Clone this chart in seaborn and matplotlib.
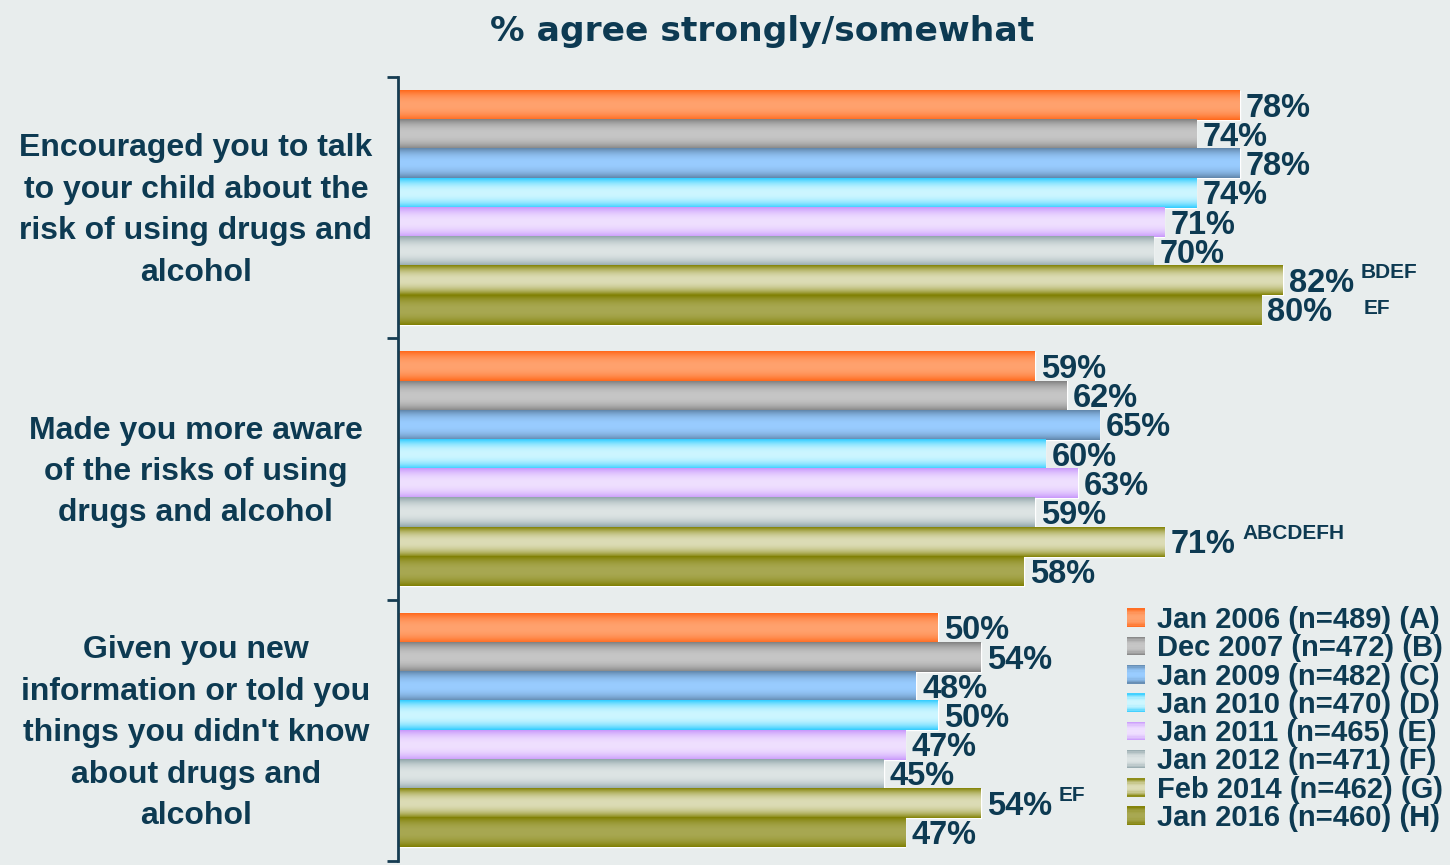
import numpy as np
import pandas as pd
import matplotlib
matplotlib.use("Agg")
import matplotlib.pyplot as plt
import matplotlib.transforms as mtransforms
from matplotlib.patches import Patch, Rectangle
from matplotlib.legend_handler import HandlerBase
from matplotlib.colors import to_rgb
import seaborn as sns

# ---------------- data ----------------
categories = [
    "Encouraged you to talk\nto your child about the\nrisk of using drugs and\nalcohol",
    "Made you more aware\nof the risks of using\ndrugs and alcohol",
    "Given you new\ninformation or told you\nthings you didn't know\nabout drugs and\nalcohol",
]
series = [
    "Jan 2006 (n=489) (A)",
    "Dec 2007 (n=472) (B)",
    "Jan 2009 (n=482) (C)",
    "Jan 2010 (n=470) (D)",
    "Jan 2011 (n=465) (E)",
    "Jan 2012 (n=471) (F)",
    "Feb 2014 (n=462) (G)",
    "Jan 2016 (n=460) (H)",
]
values_encouraged = [78, 74, 78, 74, 71, 70, 82, 80]
values_aware = [59, 62, 65, 60, 63, 59, 71, 58]
values_new_info = [50, 54, 48, 50, 47, 45, 54, 47]
# significance letters: (category index, series index, text)
sig_letters = [
    (0, 6, "BDEF"),
    (0, 7, "EF"),
    (1, 6, "ABCDEFH"),
    (2, 6, "EF"),
]

# gradient colours per series: (edge, center)
grad_colors = [
    ("#ff6618", "#ffa26e"),
    ("#7f7f7f", "#c6c6c6"),
    ("#5f84a8", "#99ccff"),
    ("#2ccbff", "#cdf6ff"),
    ("#c796fb", "#efe0ff"),
    ("#8ea3a8", "#dde4e4"),
    ("#808000", "#dcdcb6"),
    ("#7e7e00", "#a8a852"),
]

BG = "#e8eded"
TXT = "#0d3a52"

rows = []
for cat, vals in zip(categories, [values_encouraged, values_aware, values_new_info]):
    for s, v in zip(series, vals):
        rows.append({"category": cat, "series": s, "value": v})
df = pd.DataFrame(rows)

sns.set_theme(style="white")
plt.rcParams["font.family"] = ["Liberation Sans", "DejaVu Sans"]

fig = plt.figure(figsize=(14.5, 8.65), dpi=100, facecolor=BG)
ax = fig.add_axes([398 / 1450, 1 - 861 / 865, 1042 / 1450, 784 / 865])
ax.set_facecolor(BG)

mid_palette = [c for c, _ in grad_colors]
sns.barplot(data=df, y="category", x="value", hue="series", order=categories,
            hue_order=series, palette=mid_palette, orient="h", width=0.895,
            saturation=1, legend=False, ax=ax, errorbar=None)


def gradient_array(edge, center, n=64):
    e = np.array(to_rgb(edge))
    c = np.array(to_rgb(center))
    t = np.abs((np.arange(n) + 0.5) / n - 0.5) * 2
    w = np.clip(t, 0, 1) ** 2.2
    arr = c[None, :] * (1 - w[:, None]) + e[None, :] * w[:, None]
    return arr[:, None, :]


for si, cont in enumerate(ax.containers):
    edge, center = grad_colors[si]
    g = gradient_array(edge, center)
    for p in cont.patches:
        x0, y0, w, h = p.get_x(), p.get_y(), p.get_width(), p.get_height()
        ax.imshow(g, extent=[x0, x0 + w, y0 + h, y0], aspect="auto",
                  interpolation="bilinear", zorder=p.get_zorder() + 0.1)
        p.set_facecolor("none")

ax.set_xlim(0, 1042 / 10.79)
ax.set_ylim(2.5, -0.5)

# value labels
label_objs = {}
for si, cont in enumerate(ax.containers):
    for ci, p in enumerate(cont.patches):
        v = p.get_width()
        yc = p.get_y() + p.get_height() / 2
        t = ax.annotate(f"{v:.0f}%", xy=(v, yc), xytext=(4.5, -2),
                        textcoords="offset points", ha="left", va="center",
                        fontsize=23.5, fontweight="bold", color=TXT)
        label_objs[(ci, si)] = t

for ci, si, txt in sig_letters:
    lab = label_objs[(ci, si)]
    dx = 22 if (ci, si) == (0, 7) else 5
    dy = 3 if (ci, si) == (0, 7) else 8
    ax.annotate(txt, xy=(1, 0.5), xycoords=lab, xytext=(dx, dy),
                textcoords="offset points", ha="left", va="center",
                fontsize=15, fontweight="bold", color=TXT)

# axes styling
for s in ["top", "right", "bottom"]:
    ax.spines[s].set_visible(False)
ax.spines["left"].set_color("#163c52")
ax.spines["left"].set_linewidth(2)
ax.set_yticks([-0.5, 0.5, 1.5, 2.5])
ax.set_yticklabels([])
ax.tick_params(axis="y", length=8, width=2, color="#163c52", left=True)
ax.set_xticks([])
ax.set_xlabel("")
ax.set_ylabel("")

trans = mtransforms.blended_transform_factory(ax.transAxes, ax.transData)
trans = trans + mtransforms.ScaledTranslation(0, -3 / 100, fig.dpi_scale_trans)
for i, cat in enumerate(categories):
    ax.text(-0.194, i, cat, transform=trans, ha="center", va="center",
            multialignment="center", fontsize=23, fontweight="bold",
            color=TXT, linespacing=1.5)

# title
fig.text(762 / 1450, 1 - 31 / 865, "% agree strongly/somewhat", ha="center",
         va="center", fontsize=24.8, fontweight="bold", color=TXT,
         family="DejaVu Sans")


# legend with gradient squares
class GradHandler(HandlerBase):
    def __init__(self, edge, center):
        super().__init__()
        self.edge = edge
        self.center = center

    def create_artists(self, legend, orig_handle, xdescent, ydescent, width,
                       height, fontsize, trans):
        g = gradient_array(self.edge, self.center, n=14)[:, 0, :]
        n = len(g)
        arts = []
        for k in range(n):
            r = Rectangle((-xdescent, -ydescent + k * height / n), width,
                          height / n + 0.05, facecolor=g[k], edgecolor="none",
                          transform=trans)
            arts.append(r)
        return arts


handles = [Patch(facecolor=c[0], label=s) for c, s in zip(grad_colors, series)]
hmap = {h: GradHandler(*c) for h, c in zip(handles, grad_colors)}
leg = fig.legend(handles=handles, labels=series, handler_map=hmap,
                 loc="upper left", bbox_to_anchor=(1127 / 1450, 1 - 606 / 865),
                 frameon=False, borderpad=0, borderaxespad=0,
                 handlelength=0.6, handleheight=0.6, handletextpad=0.42,
                 labelspacing=0.01,
                 prop={"family": "Liberation Sans", "weight": "bold", "size": 21})
for t in leg.get_texts():
    t.set_color(TXT)

fig.savefig("out.png", dpi=100, facecolor=BG)
